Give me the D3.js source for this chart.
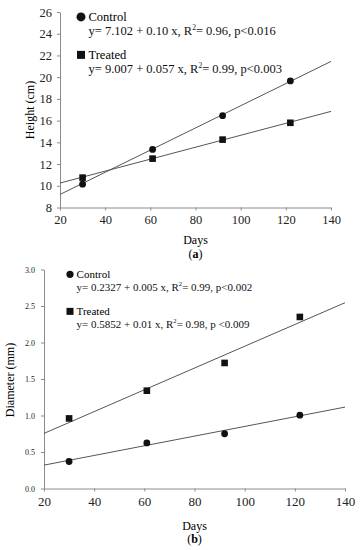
<!DOCTYPE html>
<html>
<head>
<meta charset="utf-8">
<script src="https://cdn.jsdelivr.net/npm/d3@7"></script>
<style>
  body { margin: 0; background: #fff; }
  svg, svg text { font-family: "Liberation Serif", "Times New Roman", serif; }
  svg { display: block; }
</style>
</head>
<body>
<div id="main"></div>
<script>
const w = 360, h = 550;

// panel (a) - height
const days = [30, 61, 92, 122];
const heightControl = [10.15, 13.35, 16.45, 19.65];
const heightTreated = [10.75, 12.5, 14.25, 15.8];
const heightFitControl = [[20, 9.2], [140, 21.45]];
const heightFitTreated = [[20, 10.25], [140, 16.85]];
const heightTicks = [8, 10, 12, 14, 16, 18, 20, 22, 24, 26];

// panel (b) - diameter
const diamControl = [0.37, 0.625, 0.75, 1.005];
const diamTreated = [0.96, 1.34, 1.72, 2.35];
const diamFitControl = [[20, 0.32], [140, 1.115]];
const diamFitTreated = [[20, 0.755], [140, 2.545]];
const diamTicks = [0, 0.5, 1.0, 1.5, 2.0, 2.5, 3.0];

const dayTicks = [20, 40, 60, 80, 100, 120, 140];

const svg = d3.select('#main')
            .append('svg')
            .attr('width', w)
            .attr('height', h)

const axisColor = '#8a8a8a', lineColor = '#555';
const serif = '"Liberation Serif", "Times New Roman", serif';

function eqText(g, x, y, size, pre, post) {
    const t = g.append('text')
        .attr('x', x)
        .attr('y', y)
        .attr('font-size', size)
        .attr('fill', '#111')
    t.append('tspan').text(pre)
    t.append('tspan').text('2').attr('dy', -size * 0.4).attr('font-size', size * 0.6)
    t.append('tspan').text(post).attr('dy', size * 0.4)
}

function panel(o) {
    const g = svg.append('g')
    const x = d3.scaleLinear().domain([20, 140]).range(o.xRange)
    const y = d3.scaleLinear().domain(o.yDomain).range(o.yRange)

    const xAxis = g.append('g')
        .attr('transform', 'translate(0,' + o.yRange[0] + ')')
        .call(d3.axisBottom(x).tickValues(dayTicks).tickSize(3).tickSizeOuter(0).tickPadding(o.xPad))
    const yAxis = g.append('g')
        .attr('transform', 'translate(' + o.xRange[0] + ',0)')
        .call(d3.axisLeft(y).tickValues(o.yTicks).tickSize(3).tickSizeOuter(0).tickPadding(o.yPad).tickFormat(o.yFormat))
    ;[xAxis, yAxis].forEach(a => {
        a.attr('font-family', serif).attr('font-size', null)
        a.select('.domain').attr('stroke', axisColor)
        a.selectAll('.tick line').attr('stroke', axisColor)
        a.selectAll('.tick text').attr('fill', '#222').style('font-family', serif)
    })
    xAxis.selectAll('.tick text').attr('font-size', o.xFont)
    yAxis.selectAll('.tick text').attr('font-size', o.yFont)

    const line = d3.line().x(d => x(d[0])).y(d => y(d[1]))
    ;[o.fitControl, o.fitTreated].forEach(f => {
        g.append('path')
            .attr('d', line(f))
            .attr('fill', 'none')
            .attr('stroke', lineColor)
            .attr('stroke-width', 1)
    })

    g.selectAll('circle.pt')
        .data(o.control)
        .enter()
        .append('circle')
        .attr('class', 'pt')
        .attr('cx', (d, i) => x(days[i]))
        .attr('cy', d => y(d))
        .attr('r', 3.4)
        .attr('fill', '#111')
    g.selectAll('rect.pt')
        .data(o.treated)
        .enter()
        .append('rect')
        .attr('class', 'pt')
        .attr('x', (d, i) => x(days[i]) - 3.3)
        .attr('y', d => y(d) - 3.3)
        .attr('width', 6.6)
        .attr('height', 6.6)
        .attr('fill', '#111')

    // legend
    const L = o.legend
    g.append('circle').attr('cx', L.x).attr('cy', L.y1 - L.size * 0.33).attr('r', L.r).attr('fill', '#111')
    g.append('text').attr('x', L.x + L.r + 3).attr('y', L.y1).attr('font-size', L.size).text('Control')
    eqText(g, L.x + L.r + 3, L.y1 + L.gap, L.size, o.eqControl[0], o.eqControl[1])
    g.append('rect').attr('x', L.x - L.sq / 2).attr('y', L.y2 - L.size * 0.33 - L.sq / 2)
        .attr('width', L.sq).attr('height', L.sq).attr('fill', '#111')
    g.append('text').attr('x', L.x + L.r + 3).attr('y', L.y2).attr('font-size', L.size).text('Treated')
    eqText(g, L.x + L.r + 3, L.y2 + L.gap, L.size, o.eqTreated[0], o.eqTreated[1])

    // titles
    g.append('text')
        .attr('transform', 'translate(' + o.yLabelX + ',' + o.yLabelY + ') rotate(-90)')
        .attr('text-anchor', 'middle')
        .attr('font-size', 12)
        .text(o.yLabel)
    g.append('text')
        .attr('x', (o.xRange[0] + o.xRange[1]) / 2)
        .attr('y', o.daysY)
        .attr('text-anchor', 'middle')
        .attr('font-size', 12)
        .text('Days')
    const tag = g.append('text')
        .attr('x', (o.xRange[0] + o.xRange[1]) / 2)
        .attr('y', o.tagY)
        .attr('text-anchor', 'middle')
        .attr('font-size', 12)
    tag.append('tspan').text('(')
    tag.append('tspan').text(o.tag).attr('font-weight', 'bold')
    tag.append('tspan').text(')')
}

panel({
    xRange: [60, 331], yDomain: [8, 26], yRange: [207.5, 12],
    yTicks: heightTicks, yFormat: d3.format('d'),
    xFont: 12.5, yFont: 12.5, xPad: 5, yPad: 5,
    control: heightControl, treated: heightTreated,
    fitControl: heightFitControl, fitTreated: heightFitTreated,
    legend: { x: 81, y1: 21, y2: 59, gap: 14, size: 12.5, r: 4.5, sq: 8 },
    eqControl: ['y= 7.102 + 0.10 x, R', '= 0.96, p<0.016'],
    eqTreated: ['y= 9.007 + 0.057 x, R', '= 0.99, p<0.003'],
    yLabel: 'Height (cm)', yLabelX: 34, yLabelY: 110,
    daysY: 244, tagY: 258, tag: 'a'
})

panel({
    xRange: [44, 345], yDomain: [0, 3], yRange: [488.5, 269.5],
    yTicks: diamTicks, yFormat: d3.format('.1f'),
    xFont: 13, yFont: 8, xPad: 5, yPad: 6,
    control: diamControl, treated: diamTreated,
    fitControl: diamFitControl, fitTreated: diamFitTreated,
    legend: { x: 70, y1: 278, y2: 315, gap: 12.5, size: 11, r: 3.6, sq: 7 },
    eqControl: ['y= 0.2327 + 0.005 x, R', '= 0.99, p<0.002'],
    eqTreated: ['y= 0.5852 + 0.01 x, R', '= 0.98, p <0.009'],
    yLabel: 'Diameter (mm)', yLabelX: 14, yLabelY: 380,
    daysY: 530, tagY: 543, tag: 'b'
})
</script>
</body>
</html>
